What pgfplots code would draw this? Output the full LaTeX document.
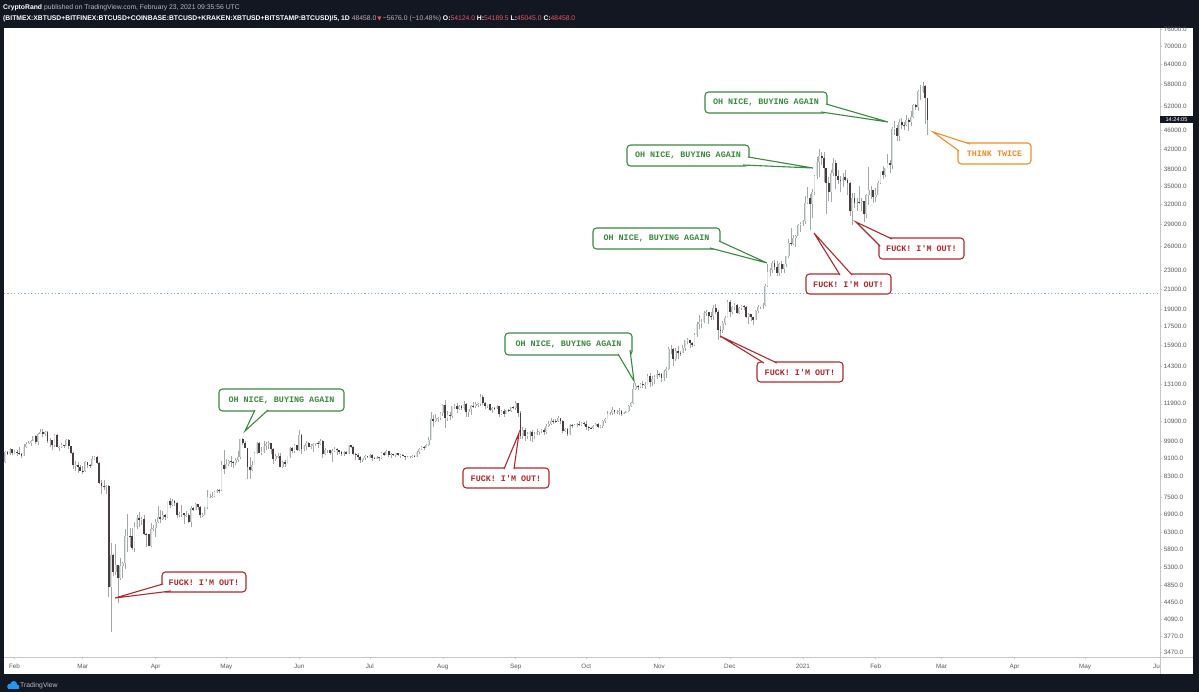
\documentclass[border=0pt]{standalone}
\usepackage{fontspec}
\setmainfont{Liberation Sans}
\newfontfamily\cf{Liberation Mono}[Ligatures=TeXOff]
\newfontfamily\dv{DejaVu Sans}
\usepackage{pgfplots}
\usepackage{pgfplotstable}
\pgfplotsset{compat=1.18}

\definecolor{tvbg}{HTML}{131722}
\definecolor{wickc}{HTML}{A3A7AC}
\definecolor{upedge}{HTML}{A9B2AD}
\definecolor{upfill}{HTML}{DAE4DF}
\definecolor{dnfill}{HTML}{4A3B3C}
\definecolor{axgray}{HTML}{C4C6CA}
\definecolor{labgray}{HTML}{555860}
\definecolor{okgreen}{HTML}{3A8B3E}
\definecolor{badred}{HTML}{B3282C}
\definecolor{warnor}{HTML}{F28C26}
\definecolor{tvred}{HTML}{E8585A}
\definecolor{hdrgray}{HTML}{C2AEB0}
\definecolor{hdrtext}{HTML}{B8BBC3}
\definecolor{pline}{HTML}{7FB2E0}
\definecolor{tvblue}{HTML}{2196F3}

% day index (0 = 1 Feb 2020), open, high, low, close
\pgfplotstableread{
d o h l c
-4 8900 9420 8880 9390
-3 9390 9440 9250 9290
-2 9290 9560 9220 9510
-1 9510 9530 9220 9350
0 9350 9450 9300 9390
1 9390 9480 9200 9340
2 9340 9620 9230 9290
3 9290 9340 9090 9180
4 9180 9740 9170 9620
5 9620 9850 9540 9760
6 9760 9880 9730 9810
7 9810 9950 9670 9910
8 9910 10160 9880 10160
9 10160 10180 9730 9860
10 9860 10300 9700 10270
11 10270 10480 10240 10360
12 10360 10500 10090 10240
13 10240 10390 10130 10370
14 10370 10380 9790 9900
15 9900 10050 9600 9930
16 9930 9950 9460 9700
17 9700 10250 9600 10190
18 10190 10250 9600 9600
19 9600 9680 9410 9610
20 9610 9780 9570 9690
21 9690 9710 9580 9670
22 9670 9990 9660 9970
23 9970 10000 9520 9650
24 9650 9660 9260 9320
25 9320 9370 8600 8790
26 8790 8970 8540 8810
27 8810 8900 8450 8710
28 8710 8800 8530 8540
29 8540 8750 8410 8530
30 8530 8960 8500 8920
31 8920 8940 8660 8770
32 8770 8840 8660 8760
33 8760 9170 8760 9070
34 9070 9170 8990 9150
35 9150 9190 8850 8890
36 8890 8900 8010 8030
37 8030 8180 7630 7940
38 7940 8150 7750 7890
39 7890 7980 7600 7940
40 7940 7960 4580 4800
41 4800 5960 3850 5620
42 5620 5650 5080 5170
43 5170 5940 5100 5360
44 5360 5370 4440 5030
45 5030 5560 4970 5330
46 5330 5440 5030 5410
47 5410 6400 5260 6180
48 6180 6900 5700 6200
49 6200 6450 5860 6190
50 6190 6420 5780 5830
51 5830 6620 5700 6480
52 6480 6850 6390 6750
53 6750 6960 6460 6680
54 6680 6790 6530 6740
55 6740 6870 6230 6250
56 6250 6270 5870 6240
57 6240 6250 5880 5880
58 5880 6600 5860 6400
59 6400 6530 6330 6420
60 6420 6740 6160 6640
61 6640 7170 6590 6800
62 6800 7020 6610 6740
63 6740 6990 6680 6860
64 6860 6880 6690 6780
65 6780 7370 6770 7340
66 7340 7460 7100 7200
67 7200 7420 7160 7370
68 7370 7380 7160 7300
69 7300 7310 6760 6870
70 6870 6950 6780 6890
71 6890 7200 6800 6920
72 6920 6930 6560 6860
73 6860 6990 6800 6870
74 6870 6930 6610 6630
75 6630 7170 6470 7110
76 7110 7150 7010 7030
77 7030 7300 7020 7250
78 7250 7260 7050 7130
79 7130 7190 6770 6850
80 6850 6940 6810 6860
81 6860 7140 6850 7130
82 7130 7750 7060 7490
83 7490 7610 7460 7510
84 7510 7700 7450 7540
85 7540 7720 7490 7700
86 7700 7790 7640 7770
87 7770 7790 7660 7760
88 7760 8970 7740 8780
89 8780 9460 8420 8620
90 8620 9060 8620 8830
91 8830 9000 8760 8980
92 8980 9190 8720 8900
93 8900 8960 8650 8890
94 8890 9100 8770 9030
95 9030 9400 8930 9150
96 9150 9980 9040 9980
97 9980 10050 9720 9810
98 9810 9920 9550 9540
99 9540 9570 8200 8720
100 8720 9160 8200 8560
101 8560 8970 8540 8810
102 8810 9380 8810 9310
103 9310 9840 9270 9790
104 9790 9830 9330 9320
105 9320 9590 9240 9380
106 9380 9890 9340 9680
107 9680 9830 9460 9730
108 9730 9900 9500 9780
109 9780 9800 9300 9510
110 9510 9570 8820 9060
111 9060 9270 8950 9170
112 9170 9310 9100 9180
113 9180 9310 8700 8720
114 8720 8970 8640 8900
115 8900 9010 8700 8840
116 8840 9200 8820 9200
117 9200 9590 9110 9570
118 9570 9600 9330 9430
119 9430 9740 9340 9700
120 9700 9700 9420 9450
121 9450 10430 9420 10200
122 10200 10230 9270 9520
123 9520 9690 9400 9660
124 9660 9880 9450 9800
125 9800 9850 9590 9620
126 9620 9730 9530 9670
127 9670 9800 9380 9750
128 9750 9800 9640 9780
129 9780 9880 9570 9770
130 9770 9990 9690 9880
131 9880 9950 9100 9280
132 9280 9550 9230 9470
133 9470 9490 9350 9470
134 9470 9480 9240 9340
135 9340 9500 8910 9430
136 9430 9590 9380 9520
137 9520 9560 9250 9460
138 9460 9480 9280 9380
139 9380 9400 9200 9300
140 9300 9400 9200 9360
141 9360 9430 9270 9290
142 9290 9690 9280 9690
143 9690 9700 9570 9630
144 9630 9670 9220 9290
145 9290 9330 9020 9250
146 9250 9310 9030 9160
147 9160 9190 8860 9000
148 9000 9100 8940 9120
149 9120 9230 9020 9190
150 9190 9200 9080 9140
151 9140 9300 9090 9230
152 9230 9270 8950 9090
153 9090 9130 9050 9070
154 9070 9190 9060 9140
155 9140 9150 8950 9080
156 9080 9370 9060 9340
157 9340 9360 9200 9250
158 9250 9470 9230 9430
159 9430 9440 9150 9240
160 9240 9310 9110 9290
161 9290 9300 9190 9240
162 9240 9340 9150 9310
163 9310 9350 9200 9240
164 9240 9280 9110 9250
165 9250 9270 9170 9200
166 9200 9210 9000 9130
167 9130 9190 9080 9160
168 9160 9200 9110 9170
169 9170 9250 9120 9210
170 9210 9220 9130 9160
171 9160 9420 9150 9390
172 9390 9540 9290 9530
173 9530 9660 9460 9610
174 9610 9640 9460 9550
175 9550 9730 9550 9710
176 9710 10120 9660 9940
177 9940 11400 9930 11040
178 11040 11240 10600 10930
179 10930 11340 10860 11100
180 11100 11170 10850 11110
181 11110 11450 10990 11350
182 11350 11860 11220 11800
183 11800 12100 10580 11070
184 11070 11480 10920 11230
185 11230 11420 11000 11190
186 11190 11790 11100 11750
187 11750 11910 11580 11770
188 11770 11920 11350 11600
189 11600 11810 11540 11760
190 11760 11800 11520 11680
191 11680 12070 11530 11880
192 11880 11940 11150 11400
193 11400 11620 11170 11570
194 11570 11800 11270 11780
195 11780 11990 11640 11770
196 11770 11980 11680 11860
197 11860 11930 11690 11910
198 11910 12470 11780 12290
199 12290 12400 11820 11970
200 11970 12020 11570 11750
201 11750 11880 11680 11860
202 11860 11880 11500 11520
203 11520 11690 11380 11670
204 11670 11720 11530 11660
205 11660 11830 11600 11760
206 11760 11770 11120 11330
207 11330 11540 11260 11460
208 11460 11590 11150 11310
209 11310 11550 11290 11530
210 11530 11580 11430 11480
211 11480 11720 11450 11700
212 11700 11780 11570 11660
213 11660 12070 11540 11930
214 11930 11950 11160 11390
215 11390 11460 10020 10170
216 10170 10620 9980 10470
217 10470 10560 9880 10170
218 10170 10350 10000 10250
219 10250 10400 9880 10370
220 10370 10440 9850 10130
221 10130 10350 10010 10230
222 10230 10500 10200 10340
223 10340 10400 10200 10390
224 10390 10480 10290 10440
225 10440 10580 10200 10330
226 10330 10790 10260 10680
227 10680 10940 10630 10790
228 10790 11100 10690 10950
229 10950 11040 10750 10940
230 10940 11040 10810 10930
231 10930 11180 10900 11080
232 11080 11080 10760 10920
233 10920 10990 10290 10420
234 10420 10580 10360 10530
235 10530 10540 10140 10240
236 10240 10770 10200 10740
237 10740 10760 10560 10690
238 10690 10790 10660 10730
239 10730 10800 10620 10770
240 10770 10950 10640 10700
241 10700 10860 10640 10840
242 10840 10850 10670 10780
243 10780 10920 10440 10620
244 10620 10650 10380 10570
245 10570 10600 10520 10550
246 10550 10700 10520 10670
247 10670 10800 10640 10790
248 10790 10800 10540 10600
249 10600 10700 10560 10670
250 10670 10960 10540 10920
251 10920 11110 10830 11060
252 11060 11480 11050 11300
253 11300 11430 11270 11380
254 11380 11720 11230 11550
255 11550 11560 11300 11420
256 11420 11550 11290 11430
257 11430 11630 11260 11510
258 11510 11540 11220 11330
259 11330 11410 11330 11370
260 11370 11490 11350 11480
261 11480 11820 11430 11750
262 11750 12030 11690 11920
263 11920 13200 11900 12820
264 12820 13170 12720 12990
265 12990 13030 12730 12930
266 12930 13170 12890 13120
267 13120 13350 12890 13030
268 13030 13240 12790 13070
269 13070 13780 13050 13650
270 13650 13860 12940 13280
271 13280 13630 12990 13460
272 13460 13690 13150 13560
273 13560 14100 13440 13800
274 13800 13890 13620 13760
275 13760 13830 13230 13550
276 13550 14070 13290 14020
277 14020 14250 13530 14150
278 14150 15750 14100 15590
279 15590 15960 15200 15590
280 15590 15680 14340 14830
281 14830 15660 14720 15480
282 15480 15850 14830 15330
283 15330 15480 15090 15300
284 15300 15960 15280 15700
285 15700 16340 15460 16290
286 16290 16480 15980 16340
287 16340 16340 15720 16070
288 16070 16150 15800 15960
289 15960 16890 15880 16720
290 16720 17860 16560 17660
291 17660 18480 17220 17800
292 17800 18130 17360 17820
293 17820 18820 17770 18680
294 18680 18960 18370 18720
295 18720 18750 17640 18420
296 18420 18770 18030 18370
297 18370 19420 18030 19160
298 19160 19500 18580 18740
299 18740 18920 16300 17160
300 17160 17470 16480 17140
301 17140 17900 16880 17730
302 17730 18350 17540 18190
303 18190 19860 18190 19700
304 19700 19920 18330 18790
305 18790 19310 18520 19220
306 19220 19580 18930 19450
307 19450 19520 18600 18650
308 18650 19180 18520 19150
309 19150 19420 18920 19360
310 19360 19420 18910 19170
311 19170 19290 18200 18320
312 18320 18640 17650 18550
313 18550 18560 17920 18250
314 18250 18270 17570 18040
315 18040 18950 18020 18800
316 18800 19400 18700 19170
317 19170 19340 19000 19270
318 19270 19570 19060 19440
319 19440 21560 19290 21350
320 21350 23770 21240 22800
321 22800 23280 22350 23110
322 23110 24170 22770 23860
323 23860 24300 23070 23480
324 23480 24100 22390 22730
325 22730 23840 22360 23800
326 23800 24110 22720 23240
327 23240 23780 22700 23720
328 23720 24790 23450 24690
329 24690 26850 24500 26440
330 26440 28370 25980 26250
331 26250 27500 26100 27040
332 27040 27390 25850 27360
333 27360 28990 27320 28890
334 28890 29300 27850 28990
335 28990 29600 28700 29410
336 29410 33300 29000 32200
337 32200 34780 32000 33000
338 33000 33600 28130 31990
339 31990 34500 29900 33950
340 33950 36940 33400 36820
341 36820 40370 36300 39370
342 39370 41950 36500 40670
343 40670 41380 38720 40240
344 40240 41350 35600 38240
345 38240 38260 30400 35570
346 35570 36600 32500 33970
347 33970 37850 32380 37400
348 37400 40100 36700 39150
349 39150 39700 34400 36830
350 36830 37900 35360 36070
351 36070 36800 33900 35850
352 35850 37400 34800 36630
353 36630 37850 35900 36000
354 36000 36420 33400 35500
355 35500 35600 30100 30840
356 30840 33800 28850 33010
357 33010 33800 31400 32080
358 32080 32950 30950 32280
359 32280 34900 31950 32250
360 32250 32900 30850 32500
361 32500 32540 29200 30430
362 30430 33600 29850 33420
363 33420 38500 31900 34300
364 34300 34900 32850 34300
365 34300 34300 32200 33100
366 33100 34700 32300 33520
367 33520 35900 33420 35510
368 35510 37660 35380 37620
369 37620 38700 36200 36940
370 36940 38300 36600 38290
371 38290 40950 38200 39260
372 39260 39700 37400 38880
373 38880 46750 37990 46450
374 46450 48200 45000 46500
375 46500 47300 43800 44850
376 44850 48700 43800 48000
377 48000 48900 46300 47400
378 47400 48000 46200 47200
379 47200 49700 47100 48600
380 48600 49000 45900 47900
381 47900 50600 47100 49150
382 49150 52600 48900 52150
383 52150 52600 50900 51600
384 51600 56300 50800 55900
385 55900 57600 53600 55900
386 55900 58400 55500 57500
387 57500 57550 47600 54124
388 54124 54189 45045 48458
}\btc

\pgfplotsset{
  wickstyle/.style={draw=wickc, line width=0.55pt, unbounded coords=jump},
  upouter/.style={draw=upedge, line width=1.8pt, line cap=butt, unbounded coords=jump},
  upinner/.style={draw=upfill, line width=0.9pt, line cap=butt, unbounded coords=jump},
  downbody/.style={draw=dnfill, line width=1.8pt, line cap=butt, unbounded coords=jump},
}

\newcommand\callout[7]{%
  \draw[#1, fill=white, line width=1.1pt, rounded corners=3.5pt] (#2) rectangle (#3);
  \fill[white] #4 -- #5 -- #6 -- cycle;
  \draw[#1, line width=1.1pt, line join=miter] #4 -- #5 -- #6;
  \path (#2) -- (#3) node[midway, text=#1, inner sep=0pt,
    font=\cf\bfseries\fontsize{8.4}{9}\selectfont] {#7};
}

\begin{document}
\begin{tikzpicture}
\fill[tvbg] (0,0) rectangle (1199pt,-692pt);
\fill[white] (4pt,-28pt) rectangle (1193pt,-674pt);

% candle paths built from the table
\pgfplotstablegetrowsof{\btc}
\pgfmathtruncatemacro\lastrow{\pgfplotsretval-1}
\gdef\wicks{}\gdef\ups{}\gdef\downs{}
\foreach \i in {0,...,\lastrow}{%
  \pgfplotstablegetelem{\i}{d}\of\btc\let\cD\pgfplotsretval
  \pgfplotstablegetelem{\i}{o}\of\btc\let\cO\pgfplotsretval
  \pgfplotstablegetelem{\i}{h}\of\btc\let\cH\pgfplotsretval
  \pgfplotstablegetelem{\i}{l}\of\btc\let\cL\pgfplotsretval
  \pgfplotstablegetelem{\i}{c}\of\btc\let\cC\pgfplotsretval
  \xdef\wicks{\wicks(\cD,\cL)(\cD,\cH)(\cD,nan)}%
  \ifnum\cC<\cO\relax
    \xdef\downs{\downs(\cD,\cO)(\cD,\cC)(\cD,nan)}%
  \else
    \xdef\ups{\ups(\cD,\cO)(\cD,\cC)(\cD,nan)}%
  \fi
}

\begin{axis}[
  at={(4pt,-657pt)}, anchor=south west,
  scale only axis, width=1156pt, height=629pt,
  ymode=log,
  xmin=-4.46, xmax=486.8, ymin=3398, ymax=76490,
  axis line style={draw=none},
  xtick={0,29,60,90,121,151,182,213,243,274,304,335,366,394,425,455},
  xticklabels={Feb,Mar,Apr,May,Jun,Jul,Aug,Sep,Oct,Nov,Dec,2021,Feb,Mar,Apr,May},
  ytick={3470,3770,4090,4450,4850,5300,5800,6300,6900,7500,8300,9100,9900,10900,11900,13100,14300,15900,17500,19000,21000,23000,26000,29000,32000,35000,38000,42000,46000,52000,58000,64000,70000,76000},
  yticklabels={3470.0,3770.0,4090.0,4450.0,4850.0,5300.0,5800.0,6300.0,6900.0,7500.0,8300.0,9100.0,9900.0,10900.0,11900.0,13100.0,14300.0,15900.0,17500.0,19000.0,21000.0,23000.0,26000.0,29000.0,32000.0,35000.0,38000.0,42000.0,46000.0,52000.0,58000.0,64000.0,70000.0,76000.0},
  xtick pos=left, ytick pos=right, yticklabel pos=right,
  xminorticks=false, yminorticks=false,
  tick align=outside, major tick length=2.5pt,
  tick style={draw=axgray, line width=0.5pt},
  ticklabel style={font=\fontsize{6.3}{7}\selectfont, text=labgray, inner sep=1.2pt},
  xticklabel style={yshift=-3pt},
]
\addplot[draw=pline, line width=0.7pt, dash pattern=on 1.2pt off 2.2pt]
  coordinates {(-4.46,20600) (486.8,20600)};
\edef\doplots{%
  \noexpand\addplot[wickstyle] coordinates {\wicks};
  \noexpand\addplot[upouter] coordinates {\ups};
  \noexpand\addplot[upinner] coordinates {\ups};
  \noexpand\addplot[downbody] coordinates {\downs};
}\doplots
\end{axis}

\begin{scope}[x=1pt, y=-1pt]
  \draw[axgray, line width=0.6pt] (4,657) -- (1193,657);
  \draw[axgray, line width=0.6pt] (1160,28) -- (1160,674);
  \node[anchor=east, inner sep=0pt, text=labgray, font=\fontsize{6.3}{7}\selectfont] at (1160,666.5) {Ju};
  % countdown label
  \fill[tvbg] (1160,116) rectangle (1193,123.5);
  \node[text=white, inner sep=0pt, font=\fontsize{5.6}{6}\selectfont] at (1176.5,119.8) {14:24:05};
  % header
  \node[anchor=base west, inner sep=0pt, text=hdrtext, font=\fontsize{6.8}{8}\selectfont] at (3,9.5)
    {\textbf{\color{white}CryptoRand} published on TradingView.com, February 23, 2021 09:35:56 UTC};
  \node[anchor=base west, inner sep=0pt, font=\fontsize{6.8}{8}\selectfont] at (3,20.5)
    {\textbf{\color{white}(BITMEX:XBTUSD+BITFINEX:BTCUSD+COINBASE:BTCUSD+KRAKEN:XBTUSD+BITSTAMP:BTCUSD)/5, 1D}
     \textcolor{hdrgray}{48458.0}\,{\dv\fontsize{5.5}{6}\selectfont\textcolor{tvred}{▼}}\,\textcolor{hdrgray}{−5676.0 (−10.48\%)}
     \textbf{\color{white}O:}\textcolor{tvred}{54124.0}
     \textbf{\color{white}H:}\textcolor{tvred}{54189.5}
     \textbf{\color{white}L:}\textcolor{tvred}{45045.0}
     \textbf{\color{white}C:}\textcolor{tvred}{48458.0}};
  % footer logo
  \fill[tvblue] (10,686.5) circle (2.8) (13.8,684.3) circle (3.3) (17,686.8) circle (2.3);
  \fill[tvblue] (8,686.5) rectangle (18.5,689.1);
  \node[anchor=west, inner sep=0pt, text=hdrtext, font=\fontsize{6.8}{8}\selectfont] at (20,685.5) {TradingView};

  % callouts
  \callout{okgreen}{219,389}{344,411}{(255,410)}{(245,431)}{(268,410)}{OH NICE, BUYING AGAIN}
  \callout{okgreen}{505,333}{632,355}{(618,354)}{(634,381)}{(630,350)}{OH NICE, BUYING AGAIN}
  \callout{okgreen}{593,228}{720,249}{(710,248)}{(767,263)}{(719,241)}{OH NICE, BUYING AGAIN}
  \callout{okgreen}{627,145}{749,166}{(743,165)}{(813,168)}{(748,157)}{OH NICE, BUYING AGAIN}
  \callout{okgreen}{705,92}{827,113}{(821,112)}{(888,122)}{(826,104)}{OH NICE, BUYING AGAIN}

  \callout{badred}{162,572}{246,592}{(163,584)}{(115,598)}{(171,591)}{FUCK! I'M OUT!}
  \callout{badred}{463,468}{549,488}{(504,469)}{(519,433)}{(514,469)}{FUCK! I'M OUT!}
  \callout{badred}{757,362}{843,382}{(764,363)}{(720,336)}{(777,363)}{FUCK! I'M OUT!}
  \callout{badred}{806,274}{891,294}{(840,275)}{(814,233)}{(852,275)}{FUCK! I'M OUT!}
  \callout{badred}{879,238}{964,259}{(880,246)}{(856,222)}{(892,239)}{FUCK! I'M OUT!}

  \callout{warnor}{958,143}{1031,164}{(959,151)}{(933,132)}{(970,144)}{THINK TWICE}
\end{scope}
\pgfresetboundingbox
\useasboundingbox (0,0) rectangle (1199pt,-692pt);
\end{tikzpicture}
\end{document}
